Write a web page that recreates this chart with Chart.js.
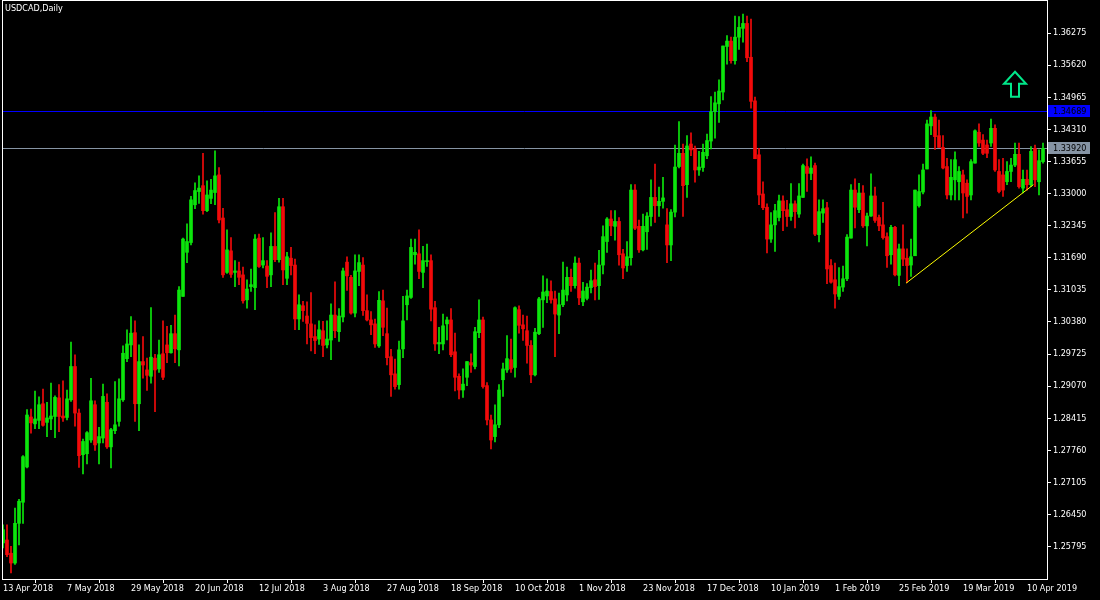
<!DOCTYPE html>
<html>
<head>
<meta charset="utf-8">
<script src="https://cdn.jsdelivr.net/npm/chart.js@4.4.0/dist/chart.umd.min.js"></script>
<style>
  html, body { margin: 0; padding: 0; background: #000; }
  canvas { display: block; }
</style>
</head>
<body>
<canvas id="usdcad" width="1100" height="600"></canvas>
<script>
// USDCAD daily candles, 13 Apr 2018 .. 16 Apr 2019 (one entry per trading day)
const open = [1.2587,1.2593,1.2566,1.2546,1.2627,1.2670,1.2742,1.2844,1.2830,1.2837,1.2871,1.2833,1.2840,1.2845,1.2883,1.2846,1.2843,1.2879,1.2947,1.2852,
1.2767,1.2769,1.2797,1.2869,1.2791,1.2801,1.2874,1.2783,1.2816,1.2835,1.2879,1.2963,1.2991,1.3016,1.2871,1.2957,1.2940,1.2927,1.2964,1.2942,
1.2973,1.2991,1.2975,1.3014,1.2981,1.3090,1.3180,1.3200,1.3277,1.3304,1.3316,1.3265,1.3290,1.3302,1.3338,1.3250,1.3139,1.3183,1.3139,1.3142,
1.3134,1.3083,1.3110,1.3108,1.3209,1.3154,1.3152,1.3134,1.3192,1.3165,1.3273,1.3127,1.3168,1.3154,1.3044,1.3071,1.3050,1.3034,1.3008,1.3003,
1.3020,1.2991,1.3001,1.3052,1.3018,1.3048,1.3160,1.3129,1.3056,1.3141,1.3154,1.3061,1.3042,1.3034,1.2989,1.3081,1.3014,1.2967,1.2932,1.2910,
1.2983,1.3073,1.3088,1.3175,1.3177,1.3139,1.3161,1.3163,1.3067,1.2993,1.2993,1.3034,1.3042,1.2977,1.2927,1.2899,1.2925,1.2955,1.2947,1.3016,
1.3042,1.2908,1.2838,1.2804,1.2828,1.2920,1.2940,1.2961,1.2945,1.3063,1.3032,1.3020,1.2990,1.2930,1.3014,1.3083,1.3091,1.3100,1.3085,1.3052,
1.3073,1.3093,1.3129,1.3112,1.3158,1.3079,1.3086,1.3108,1.3124,1.3112,1.3154,1.3202,1.3248,1.3233,1.3243,1.3177,1.3153,1.3169,1.3307,1.3233,
1.3185,1.3222,1.3253,1.3292,1.3275,1.3284,1.3236,1.3195,1.3262,1.3355,1.3382,1.3318,1.3401,1.3391,1.3348,1.3353,1.3377,1.3407,1.3467,1.3483,
1.3507,1.3600,1.3611,1.3571,1.3619,1.3637,1.3647,1.3578,1.3489,1.3379,1.3299,1.3272,1.3207,1.3236,1.3251,1.3285,1.3267,1.3253,1.3279,1.3258,
1.3292,1.3355,1.3341,1.3357,1.3216,1.3260,1.3271,1.3153,1.3124,1.3090,1.3109,1.3126,1.3209,1.3307,1.3267,1.3301,1.3234,1.3254,1.3295,1.3251,
1.3236,1.3212,1.3175,1.3231,1.3133,1.3187,1.3168,1.3154,1.3173,1.3275,1.3303,1.3350,1.3438,1.3456,1.3418,1.3394,1.3355,1.3297,1.3328,1.3324,
1.3338,1.3321,1.3297,1.3362,1.3425,1.3409,1.3399,1.3403,1.3433,1.3345,1.3338,1.3324,1.3345,1.3358,1.3380,1.3311,1.3329,1.3318,1.3392,1.3324,
1.3365];

const high = [1.2624,1.2624,1.2580,1.2658,1.2676,1.2765,1.2859,1.2860,1.2897,1.2885,1.2901,1.2874,1.2913,1.2887,1.2910,1.2918,1.2899,1.2997,1.2971,1.2860,
1.2799,1.2814,1.2923,1.2877,1.2823,1.2911,1.2891,1.2821,1.2916,1.2922,1.2989,1.3022,1.3049,1.3040,1.2991,1.3008,1.2964,1.3067,1.2972,1.3001,
1.3040,1.3029,1.3031,1.3052,1.3110,1.3209,1.3238,1.3294,1.3322,1.3336,1.3382,1.3326,1.3329,1.3387,1.3353,1.3270,1.3226,1.3210,1.3163,1.3160,
1.3150,1.3124,1.3146,1.3216,1.3217,1.3210,1.3163,1.3220,1.3261,1.3290,1.3290,1.3180,1.3190,1.3166,1.3093,1.3080,1.3079,1.3098,1.3032,1.3040,
1.3039,1.3040,1.3075,1.3120,1.3065,1.3148,1.3171,1.3133,1.3175,1.3175,1.3169,1.3093,1.3059,1.3044,1.3100,1.3103,1.3066,1.2982,1.2962,1.2999,
1.3090,1.3103,1.3207,1.3207,1.3226,1.3192,1.3197,1.3175,1.3080,1.3027,1.3054,1.3048,1.3065,1.3015,1.2932,1.2942,1.2957,1.2973,1.3027,1.3083,
1.3048,1.2914,1.2848,1.2869,1.2910,1.2954,1.3010,1.3003,1.3069,1.3071,1.3052,1.3050,1.3000,1.3025,1.3088,1.3132,1.3126,1.3122,1.3101,1.3097,
1.3160,1.3150,1.3146,1.3171,1.3168,1.3119,1.3116,1.3144,1.3158,1.3184,1.3234,1.3251,1.3265,1.3265,1.3251,1.3186,1.3202,1.3318,1.3318,1.3246,
1.3258,1.3261,1.3328,1.3360,1.3313,1.3333,1.3269,1.3267,1.3399,1.3447,1.3401,1.3418,1.3424,1.3397,1.3386,1.3401,1.3421,1.3498,1.3507,1.3532,
1.3601,1.3622,1.3619,1.3662,1.3661,1.3666,1.3662,1.3656,1.3497,1.3392,1.3324,1.3279,1.3261,1.3278,1.3297,1.3295,1.3286,1.3320,1.3285,1.3320,
1.3360,1.3371,1.3375,1.3362,1.3287,1.3287,1.3282,1.3165,1.3158,1.3149,1.3152,1.3216,1.3318,1.3330,1.3321,1.3316,1.3260,1.3340,1.3313,1.3256,
1.3282,1.3220,1.3235,1.3233,1.3197,1.3236,1.3187,1.3207,1.3307,1.3338,1.3360,1.3450,1.3469,1.3462,1.3450,1.3418,1.3372,1.3369,1.3385,1.3355,
1.3348,1.3328,1.3369,1.3430,1.3442,1.3420,1.3409,1.3452,1.3440,1.3369,1.3372,1.3365,1.3372,1.3403,1.3403,1.3348,1.3348,1.3396,1.3399,1.3389,
1.3403];

const low = [1.2577,1.2559,1.2526,1.2543,1.2583,1.2627,1.2740,1.2811,1.2820,1.2820,1.2825,1.2804,1.2818,1.2802,1.2814,1.2835,1.2838,1.2876,1.2825,1.2741,
1.2728,1.2748,1.2792,1.2776,1.2748,1.2791,1.2780,1.2740,1.2810,1.2825,1.2876,1.2957,1.2967,1.2835,1.2816,1.2923,1.2898,1.2913,1.2855,1.2935,
1.2920,1.2955,1.2974,1.2955,1.2948,1.3090,1.3159,1.3195,1.3269,1.3280,1.3258,1.3263,1.3279,1.3277,1.3240,1.3129,1.3137,1.3129,1.3110,1.3114,
1.3076,1.3066,1.3100,1.3063,1.3149,1.3148,1.3108,1.3110,1.3161,1.3160,1.3114,1.3114,1.3134,1.3022,1.3022,1.3039,1.2993,1.2979,1.2973,1.2992,
1.2967,1.2985,1.2961,1.3006,1.2998,1.3038,1.3102,1.3054,1.3048,1.3112,1.3051,1.3040,1.3012,1.2986,1.2986,1.3010,1.2950,1.2886,1.2901,1.2901,
1.2965,1.3042,1.3086,1.3156,1.3126,1.3108,1.3151,1.3040,1.2980,1.2973,1.2981,1.3001,1.2967,1.2897,1.2881,1.2884,1.2908,1.2935,1.2942,1.3006,
1.2903,1.2828,1.2779,1.2793,1.2822,1.2886,1.2935,1.2935,1.2925,1.3015,1.3000,1.2954,1.2914,1.2928,1.3012,1.3027,1.3077,1.3076,1.2967,1.3014,
1.3069,1.3081,1.3100,1.3107,1.3073,1.3071,1.3083,1.3097,1.3083,1.3084,1.3136,1.3180,1.3214,1.3205,1.3154,1.3126,1.3141,1.3154,1.3226,1.3180,
1.3183,1.3186,1.3234,1.3241,1.3253,1.3270,1.3159,1.3163,1.3252,1.3352,1.3253,1.3292,1.3377,1.3323,1.3337,1.3345,1.3371,1.3391,1.3413,1.3445,
1.3491,1.3564,1.3566,1.3564,1.3594,1.3609,1.3569,1.3474,1.3371,1.3277,1.3267,1.3179,1.3200,1.3182,1.3244,1.3224,1.3233,1.3245,1.3230,1.3251,
1.3292,1.3304,1.3328,1.3214,1.3201,1.3241,1.3116,1.3117,1.3066,1.3084,1.3100,1.3122,1.3209,1.3230,1.3261,1.3231,1.3193,1.3253,1.3241,1.3224,
1.3207,1.3149,1.3156,1.3132,1.3112,1.3153,1.3118,1.3131,1.3173,1.3272,1.3299,1.3350,1.3420,1.3390,1.3394,1.3350,1.3289,1.3287,1.3287,1.3287,
1.3250,1.3260,1.3287,1.3362,1.3396,1.3379,1.3373,1.3396,1.3345,1.3301,1.3294,1.3318,1.3324,1.3355,1.3311,1.3301,1.3307,1.3314,1.3314,1.3297,
1.3362];

const close = [1.2614,1.2563,1.2546,1.2627,1.2672,1.2763,1.2848,1.2832,1.2840,1.2869,1.2827,1.2842,1.2846,1.2884,1.2845,1.2842,1.2881,1.2947,1.2852,1.2765,
1.2794,1.2812,1.2877,1.2787,1.2804,1.2886,1.2783,1.2818,1.2828,1.2881,1.2974,1.2993,1.3015,1.2871,1.2957,1.2950,1.2929,1.2966,1.2940,1.2971,
1.2925,1.2975,1.3014,1.2983,1.3103,1.3207,1.3202,1.3287,1.3306,1.3311,1.3265,1.3297,1.3307,1.3336,1.3246,1.3134,1.3185,1.3135,1.3142,1.3129,
1.3081,1.3105,1.3114,1.3207,1.3151,1.3163,1.3131,1.3192,1.3165,1.3273,1.3144,1.3171,1.3153,1.3044,1.3073,1.3061,1.3035,1.3006,1.3000,1.3022,
1.2990,1.3003,1.3052,1.3020,1.3050,1.3142,1.3132,1.3056,1.3142,1.3159,1.3061,1.3042,1.3032,1.2993,1.3082,1.3027,1.2965,1.2930,1.2906,1.2981,
1.3040,1.3091,1.3190,1.3180,1.3141,1.3163,1.3163,1.3064,1.2993,1.2996,1.3030,1.3042,1.2971,1.2925,1.2899,1.2911,1.2957,1.2950,1.3018,1.3042,
1.2906,1.2838,1.2797,1.2828,1.2899,1.2942,1.2963,1.2942,1.3067,1.3031,1.3024,1.2990,1.2930,1.3017,1.3085,1.3099,1.3101,1.3083,1.3054,1.3073,
1.3103,1.3129,1.3112,1.3158,1.3087,1.3101,1.3109,1.3122,1.3110,1.3154,1.3212,1.3248,1.3234,1.3243,1.3175,1.3148,1.3171,1.3307,1.3229,1.3185,
1.3233,1.3254,1.3292,1.3275,1.3284,1.3291,1.3195,1.3262,1.3354,1.3382,1.3316,1.3397,1.3389,1.3348,1.3354,1.3384,1.3408,1.3467,1.3485,1.3509,
1.3601,1.3611,1.3571,1.3619,1.3639,1.3647,1.3577,1.3488,1.3371,1.3297,1.3271,1.3207,1.3236,1.3265,1.3285,1.3265,1.3253,1.3279,1.3263,1.3295,
1.3357,1.3341,1.3352,1.3217,1.3263,1.3269,1.3146,1.3119,1.3095,1.3110,1.3126,1.3211,1.3307,1.3272,1.3301,1.3234,1.3254,1.3295,1.3245,1.3234,
1.3210,1.3173,1.3231,1.3134,1.3187,1.3166,1.3153,1.3171,1.3307,1.3304,1.3348,1.3442,1.3456,1.3416,1.3394,1.3352,1.3297,1.3333,1.3369,1.3345,
1.3301,1.3294,1.3365,1.3428,1.3403,1.3382,1.3382,1.3433,1.3348,1.3304,1.3307,1.3345,1.3358,1.3380,1.3314,1.3329,1.3318,1.3386,1.3328,1.3367,
1.3392];

// one date label every 16 bars
const tickLabels = ["13 Apr 2018","7 May 2018","29 May 2018","20 Jun 2018","12 Jul 2018","3 Aug 2018","27 Aug 2018","18 Sep 2018",
  "10 Oct 2018","1 Nov 2018","23 Nov 2018","17 Dec 2018","10 Jan 2019","1 Feb 2019","25 Feb 2019","19 Mar 2019","10 Apr 2019"];
const labelStep = 16;

const priceTicks = [1.25795,1.26450,1.27105,1.27760,1.28415,1.29070,1.29725,1.30380,1.31035,
  1.31690,1.32345,1.33000,1.33655,1.34310,1.34965,1.35620,1.36275];

const blueLevel = 1.34689;
const bidLevel = 1.33920;
const trendBars = [225.75, 257.6];
const trendPrices = [1.3117, 1.3318];
const arrowAt = { bar: 253, price: 1.3524 };

const bullColor = '#0ce60c';
const bearColor = '#f20a0a';
const idx = open.map((_, i) => i);
const candleColors = idx.map(i => close[i] >= open[i] ? bullColor : bearColor);

const chartFont = "'DejaVu Sans Condensed', 'Liberation Sans Narrow', 'DejaVu Sans', sans-serif";

const overlay = {
  id: 'overlay',
  beforeDatasetsDraw(chart) {
    const { ctx, chartArea: a, scales: { y } } = chart;
    ctx.save();
    ctx.lineWidth = 1;
    [[blueLevel, '#0000ff'], [bidLevel, '#8694a4']].forEach(([v, col]) => {
      const py = Math.round(y.getPixelForValue(v)) + 0.5;
      ctx.strokeStyle = col;
      ctx.beginPath();
      ctx.moveTo(a.left, py);
      ctx.lineTo(a.right, py);
      ctx.stroke();
    });
    ctx.restore();
  },
  afterDraw(chart) {
    const { ctx, chartArea: a, scales: { x, y } } = chart;
    ctx.save();
    // frame
    ctx.strokeStyle = '#ffffff';
    ctx.lineWidth = 1;
    ctx.strokeRect(a.left + 0.5, a.top - 0.5, a.right - a.left, a.bottom - a.top + 1);

    // symbol caption
    ctx.fillStyle = '#ffffff';
    ctx.font = '9px ' + chartFont;
    ctx.textBaseline = 'middle';
    ctx.textAlign = 'left';
    ctx.fillText('USDCAD,Daily', a.left + 3, a.top + 8);

    // price boxes on the right axis
    [[blueLevel, '#0000ff', '#000000'], [bidLevel, '#8694a4', '#000000']].forEach(([v, bg, fg]) => {
      const py = Math.round(y.getPixelForValue(v));
      ctx.fillStyle = bg;
      ctx.fillRect(a.right + 1, py - 6, 42, 12);
      ctx.fillStyle = fg;
      ctx.fillText(v.toFixed(5), a.right + 6, py + 0.5);
    });

    // up arrow object
    const cx = x.getPixelForValue(arrowAt.bar);
    const cy = y.getPixelForValue(arrowAt.price);
    ctx.strokeStyle = '#00e88a';
    ctx.lineWidth = 2;
    ctx.beginPath();
    ctx.moveTo(cx, cy - 12);
    ctx.lineTo(cx + 11, cy);
    ctx.lineTo(cx + 4, cy);
    ctx.lineTo(cx + 4, cy + 13);
    ctx.lineTo(cx - 4, cy + 13);
    ctx.lineTo(cx - 4, cy);
    ctx.lineTo(cx - 11, cy);
    ctx.closePath();
    ctx.stroke();
    ctx.restore();
  }
};

new Chart(document.getElementById('usdcad'), {
  type: 'bar',
  data: {
    datasets: [
      {
        label: 'shadow',
        data: idx.map(i => ({ x: i, y: [low[i], high[i]] })),
        backgroundColor: candleColors,
        barThickness: 1,
        grouped: false,
        order: 2
      },
      {
        label: 'body',
        data: idx.map(i => ({ x: i, y: [open[i], close[i]] })),
        backgroundColor: candleColors,
        barThickness: 3,
        minBarLength: 1,
        grouped: false,
        order: 1
      },
      {
        type: 'line',
        label: 'trend',
        data: trendBars.map((b, k) => ({ x: b, y: trendPrices[k] })),
        borderColor: '#ffff00',
        borderWidth: 1,
        pointRadius: 0,
        order: 0
      }
    ]
  },
  options: {
    responsive: false,
    animation: false,
    events: [],
    layout: { padding: { left: 2, top: 1, right: 0, bottom: 0 } },
    plugins: {
      legend: { display: false },
      tooltip: { enabled: false }
    },
    scales: {
      x: {
        type: 'linear',
        min: -0.25,
        max: 261,
        offset: false,
        afterBuildTicks: s => { s.ticks = tickLabels.map((_, k) => ({ value: k * labelStep })); },
        afterFit: s => { s.height = 21; s.paddingLeft = 0; s.paddingRight = 0; },
        grid: { drawOnChartArea: false, drawTicks: true, tickLength: 4, color: '#ffffff' },
        border: { display: false },
        ticks: {
          autoSkip: false,
          maxRotation: 0,
          align: 'start',
          padding: 0,
          color: '#ffffff',
          font: { family: chartFont, size: 9 },
          callback: (v, k) => tickLabels[k]
        }
      },
      y: {
        position: 'right',
        min: 1.25134,
        max: 1.36928,
        afterBuildTicks: s => { s.ticks = priceTicks.map(v => ({ value: v })); },
        afterFit: s => { s.width = 53; s.paddingTop = 0; s.paddingBottom = 0; },
        grid: { drawOnChartArea: false, drawTicks: true, tickLength: 4, color: '#ffffff' },
        border: { display: false },
        ticks: {
          autoSkip: false,
          padding: 2,
          color: '#ffffff',
          font: { family: chartFont, size: 9 },
          callback: (v, k) => priceTicks[k].toFixed(5)
        }
      }
    }
  },
  plugins: [overlay]
});
</script>
</body>
</html>
